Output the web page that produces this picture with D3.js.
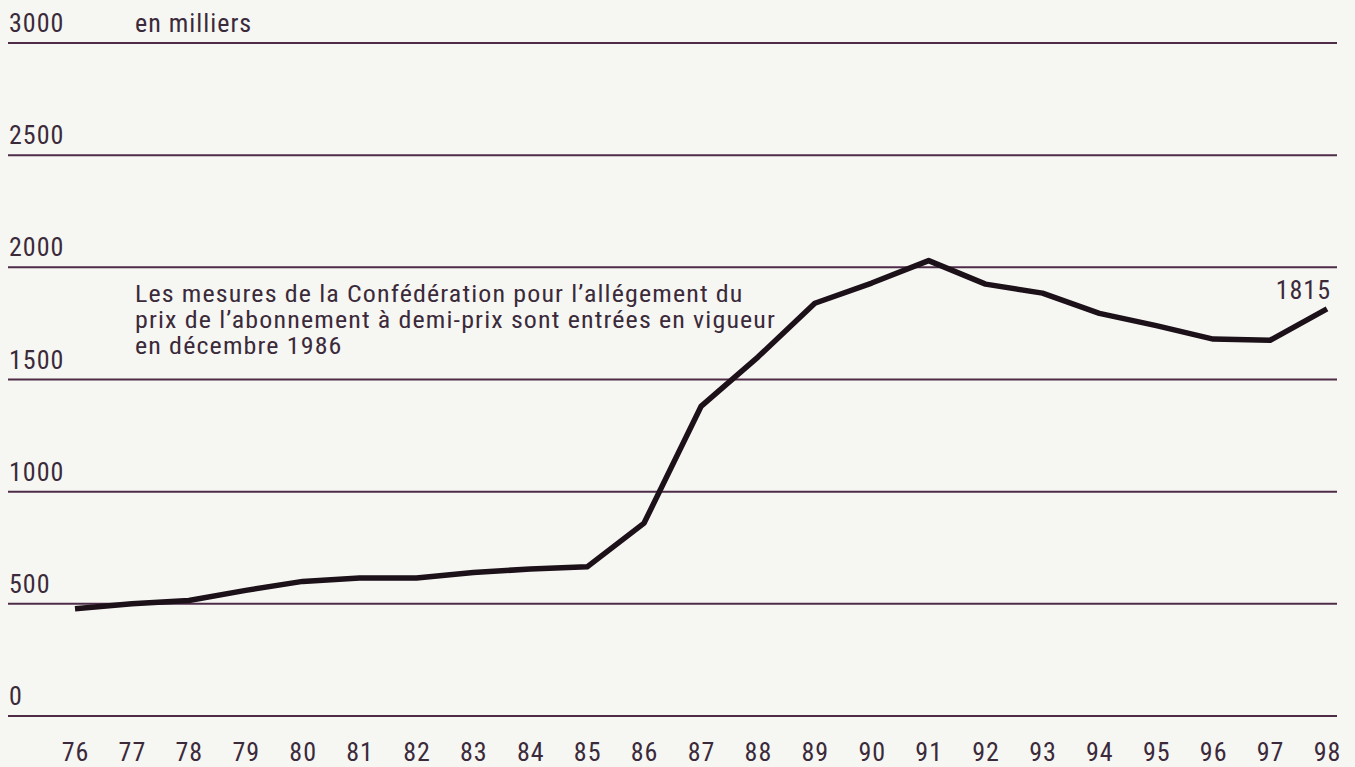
<!DOCTYPE html>
<html><head><meta charset="utf-8">
<script src="https://cdn.jsdelivr.net/npm/d3@7"></script>
<style>
html,body{margin:0;padding:0;background:#f6f6f3;}
svg{display:block;}
text{font-family:"Liberation Sans Narrow","Roboto Condensed","DejaVu Sans Condensed",sans-serif;fill:#3b2a3a;letter-spacing:1px;}
</style></head>
<body>
<svg id="c" width="1355" height="767"></svg>
<script>
const years = ["76","77","78","79","80","81","82","83","84","85","86","87","88","89","90","91","92","93","94","95","96","97","98"];
const values = [478,500,515,560,600,615,615,640,655,665,860,1380,1600,1840,1930,2030,1925,1885,1795,1740,1680,1675,1815];
const yTicks = [0,500,1000,1500,2000,2500,3000];
const unitLabel = "en milliers";
const noteLines = ["Les mesures de la Confédération pour l’allégement du","prix de l’abonnement à demi-prix sont entrées en vigueur","en décembre 1986"];
const endLabel = "1815";

const FS = 26;
const svg = d3.select("#c");
const x = d3.scalePoint().domain(years).range([75, 1327]);
const y = d3.scaleLinear().domain([0,3000]).range([716, 43]);

// gridlines
svg.append("g").selectAll("line").data(yTicks).join("line")
  .attr("x1",8).attr("x2",1337)
  .attr("y1",d=>y(d)).attr("y2",d=>y(d))
  .attr("stroke","#4e2c48").attr("stroke-width",2);

// y labels
svg.append("g").selectAll("text").data(yTicks).join("text")
  .attr("x",9).attr("y",d=>y(d)-11)
  .attr("font-size",FS).text(d=>d);

svg.append("text").attr("x",135).attr("y",y(3000)-11).attr("font-size",FS).text(unitLabel);

// x labels
const xAxis = d3.axisBottom(x).tickSize(0).tickPadding(0);
const gx = svg.append("g").attr("transform","translate(0,761)").call(xAxis);
gx.select(".domain").remove();
gx.selectAll("text").attr("font-size",FS).attr("dy",0).style("font-family",null).attr("fill",null);

// note: three lines, slightly widened glyphs
const noteG = svg.append("g").attr("transform","translate(135,0) scale(1.13,1)");
noteG.selectAll("text").data(noteLines).join("text")
  .attr("x",0).attr("y",(d,i)=>302+i*26).attr("font-size",23).text(d=>d);

// line
const line = d3.line().x((d,i)=>x(years[i])).y(d=>y(d)).curve(d3.curveLinear);
svg.append("path").datum(values).attr("d",line)
  .attr("fill","none").attr("stroke","#1c1019").attr("stroke-width",5.5)
  .attr("stroke-linejoin","round");

svg.append("text").attr("x",x("98")+4).attr("y",y(values[values.length-1])-10)
  .attr("text-anchor","end").attr("font-size",FS).text(endLabel);
</script>
</body></html>
